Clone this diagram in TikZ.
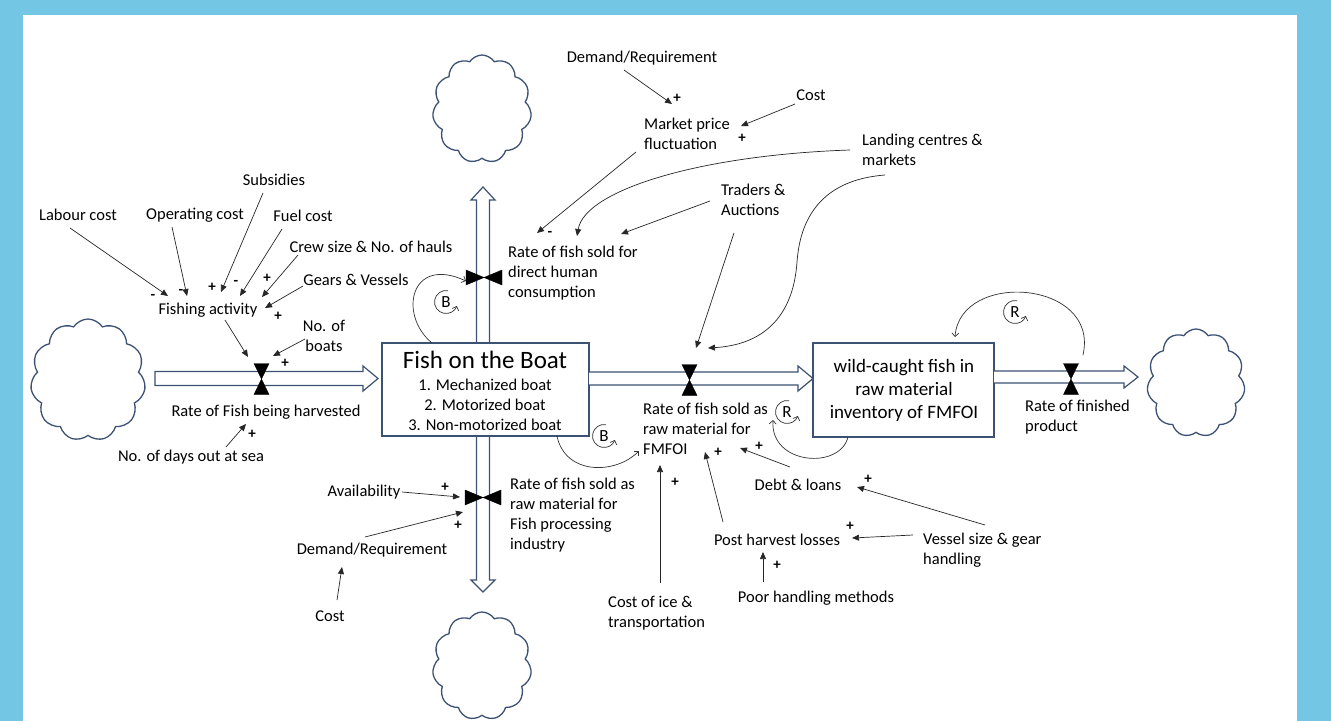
\documentclass[tikz,border=0pt]{standalone}
\usepackage{fontspec}
\setmainfont{Carlito}
\usetikzlibrary{shapes.symbols,arrows.meta,calc}
\definecolor{framecol}{RGB}{116,198,229}
\definecolor{flow}{RGB}{60,82,115}
\tikzset{
 lbl/.style={inner sep=0pt, font=\fontsize{16.5}{20}\selectfont, align=center},
 lbll/.style={inner sep=0pt, font=\fontsize{16.5}{20}\selectfont, align=left, anchor=west},
 pol/.style={inner sep=0pt, font=\fontsize{15}{15}\selectfont\bfseries},
 arr/.style={-{Triangle[length=7pt,width=6pt]}, line width=0.7pt, black!85},
 loopa/.style={-{Straight Barb[length=3.5pt,width=7pt]}, line width=0.7pt, black!80},
 pipe/.style={draw=flow, fill=white, line width=1.2pt, line join=miter},
 valvest/.style={fill=black, draw=black, line width=0.4pt},
 cloudy/.style={cloud, cloud puffs=11, cloud puff arc=115, aspect=1, draw=flow, line width=1.3pt, fill=white, inner sep=0pt},
 stockbox/.style={draw=flow, fill=white, line width=1.2pt, inner sep=0pt},
 looplbl/.style={inner sep=0pt, font=\fontsize{17}{17}\selectfont},
}
\newcommand{\loopsym}[3]{%
  \node[looplbl] (#3) at (#1) {#2};
  \draw[loopa] ($(#1)+(-80:11.5)$) arc[start angle=-80, end angle=-340, radius=11.5];
}
\begin{document}
\begin{tikzpicture}[x=1pt,y=-1pt]
\useasboundingbox (0,0) rectangle (1331,721);
\fill[framecol] (0,0) rectangle (1331,721);
\fill[white] (23,15) rectangle (1297,721);

% clouds
\node[cloudy, minimum width=99, minimum height=108] (ctop) at (482,109) {};
\node[cloudy, minimum width=99, minimum height=108] (cbot) at (482,666) {};
\node[cloudy, minimum width=115, minimum height=122] (cleft) at (88,380) {};
\node[cloudy, minimum width=98, minimum height=108] (cright) at (1196,383) {};

% vertical pipe (up and down)
\draw[pipe] (476.5,420) -- (476.5,200) -- (471,200) -- (483,187) -- (495,200) -- (489.5,200) -- (489.5,420);
\draw[pipe] (476.5,420) -- (476.5,580) -- (471,580) -- (483,592) -- (495,580) -- (489.5,580) -- (489.5,420);

% stocks
\node[stockbox, minimum width=207, minimum height=93] (boat) at (485.5,389.5) {};
\node[stockbox, minimum width=181, minimum height=94] (wild) at (903.5,390) {};

% horizontal pipes
\draw[pipe] (155,371.5) -- (363,371.5) -- (363,366) -- (378,378.5) -- (363,391) -- (363,385.5) -- (155,385.5) -- cycle;
\draw[pipe] (589,372) -- (798,372) -- (798,366) -- (813,378.5) -- (798,391) -- (798,385) -- (589,385);
\draw[pipe] (994,371) -- (1124,371) -- (1124,366) -- (1138,377) -- (1124,388) -- (1124,383) -- (994,383);

% valves
\coordinate (v1) at (261.5,379);
\coordinate (v2) at (689.5,380);
\coordinate (v3) at (1071,379);
\coordinate (v4) at (484,277.5);
\coordinate (v5) at (483,497.5);
\foreach \v in {v1,v2,v3}{
  \fill[valvest] ($(\v)+(-7.5,-15.5)$) -- ($(\v)+(7.5,-15.5)$) -- (\v) -- cycle;
  \fill[valvest] ($(\v)+(-7.5,15.5)$) -- ($(\v)+(7.5,15.5)$) -- (\v) -- cycle;
}
\foreach \v in {v4,v5}{
  \fill[valvest] ($(\v)+(-18,-7.5)$) -- ($(\v)+(-18,7.5)$) -- (\v) -- cycle;
  \fill[valvest] ($(\v)+(18,-7.5)$) -- ($(\v)+(18,7.5)$) -- (\v) -- cycle;
}

% stock texts
\node[inner sep=0pt, font=\fontsize{25}{28}\selectfont] (boatt) at (485,360) {Fish on the Boat};
\node[lbl] (boatl) at (485,405) {1. Mechanized boat\\2. Motorized boat\\3. Non-motorized boat};
\node[inner sep=0pt, font=\fontsize{19}{23}\selectfont, align=center] (wildt) at (904,390) {wild-caught fish in\\raw material\\inventory of FMFOI};

% labels
\node[lbl] (subs) at (274,180) {Subsidies};
\node[lbl] (labour) at (78,215) {Labour cost};
\node[lbl] (opc) at (195,215) {Operating cost};
\node[lbl] (fuel) at (303,216) {Fuel cost};
\node[lbl] (crew) at (371,247) {Crew size \& No. of hauls};
\node[lbl] (gears) at (356,280) {Gears \& Vessels};
\node[lbl] (fishact) at (208,310) {Fishing activity};
\node[lbl] (boats) at (324,336) {No. of\\boats};
\node[lbl] (harv) at (266,412) {Rate of Fish being harvested};
\node[lbl] (days) at (191,457) {No. of days out at sea};

\node[lbl] (dem1) at (642,58) {Demand/Requirement};
\node[lbl] (cost1) at (811,95) {Cost};
\node[lbll] (mkt) at (644,134) {Market price\\fluctuation};
\node[lbll] (land) at (862,150) {Landing centres \&\\markets};
\node[lbll] (trad) at (721,200) {Traders \&\\Auctions};
\node[lbll] (direct) at (508,273) {Rate of fish sold for\\direct human\\consumption};

\node[lbll] (fmfoi) at (643,429) {Rate of fish sold as\\raw material for\\FMFOI};
\node[lbll] (fin) at (1025,417) {Rate of finished\\product};

\node[lbl] (avail) at (364,492) {Availability};
\node[lbll] (fpi) at (510,515) {Rate of fish sold as\\raw material for\\Fish processing\\industry};
\node[lbl] (dem2) at (372,550) {Demand/Requirement};
\node[lbl] (cost2) at (330,616) {Cost};
\node[lbll] (ice) at (608,613) {Cost of ice \&\\transportation};
\node[lbl] (debt) at (798,485) {Debt \& loans};
\node[lbl] (post) at (777,540) {Post harvest losses};
\node[lbll] (vessel) at (923,550) {Vessel size \& gear\\handling};
\node[lbl] (poor) at (816,598) {Poor handling methods};

% connector end points
\coordinate (L1s) at (70,228);   \coordinate (L1e) at (168,296);
\coordinate (L2s) at (172,227);  \coordinate (L2e) at (187,296);
\coordinate (L3s) at (263,193);  \coordinate (L3e) at (221,292);
\coordinate (L4s) at (282,229);  \coordinate (L4e) at (240,296);
\coordinate (L5s) at (298,255);  \coordinate (L5e) at (262,297);
\coordinate (L6s) at (303,286);  \coordinate (L6e) at (265,308);
\coordinate (L7s) at (225,320);  \coordinate (L7e) at (248,357);
\coordinate (L8s) at (305,339);  \coordinate (L8e) at (273,356);
\coordinate (L9s) at (226,447);  \coordinate (L9e) at (246,424);

\coordinate (T1s) at (624,70);   \coordinate (T1e) at (672,104);
\coordinate (T2s) at (795,104);  \coordinate (T2e) at (741,126);
\coordinate (T3s) at (636,152);  \coordinate (T3e) at (537,233);
\coordinate (T4s) at (710,201);  \coordinate (T4e) at (621,234);
\coordinate (T5s) at (734,233);  \coordinate (T5e) at (696,348);
\coordinate (T6s) at (850,150);  \coordinate (T6e) at (577,236);
\coordinate (T7s) at (885,175);  \coordinate (T7e) at (708,348);

\coordinate (B1s) at (402,492);  \coordinate (B1e) at (460,497);
\coordinate (B2s) at (365,537);  \coordinate (B2e) at (463,512);
\coordinate (B3s) at (337,600);  \coordinate (B3e) at (342,567);
\coordinate (B4s) at (660,583);  \coordinate (B4e) at (660,465);
\coordinate (B5s) at (723,522);  \coordinate (B5e) at (705,452);
\coordinate (B6s) at (790,467);  \coordinate (B6e) at (740,448);
\coordinate (B7s) at (985,525);  \coordinate (B7e) at (857,487);
\coordinate (B8s) at (913,535);  \coordinate (B8e) at (852,538);
\coordinate (B9s) at (763,582);  \coordinate (B9e) at (763,552);

\foreach \a in {L1,L2,L3,L4,L5,L6,L7,L8,L9,T1,T2,T3,T4,T5,B1,B2,B3,B4,B5,B6,B7,B8,B9}{
  \draw[arr] (\a s) -- (\a e);
}
\draw[arr] (T6s) .. controls (700,155) and (585,190) .. (T6e);
\draw[arr] (T7s) .. controls (820,180) and (800,220) .. (797,262) .. controls (793,320) and (760,345) .. (T7e);

% feedback loops
\coordinate (lp1s) at (432,343); \coordinate (lp1e) at (466,281);
\coordinate (lp2s) at (557,436); \coordinate (lp2e) at (639,451);
\coordinate (lp3s) at (848,437); \coordinate (lp3e) at (773,420);
\coordinate (lp4s) at (1083,355); \coordinate (lp4e) at (955,337);
\draw[loopa] (lp1s) .. controls (398,315) and (410,255) .. (lp1e);
\draw[loopa] (lp2s) .. controls (565,475) and (615,475) .. (lp2e);
\draw[loopa] (lp3s) .. controls (840,470) and (770,465) .. (lp3e);
\draw[loopa] (lp4s) .. controls (1100,280) and (960,270) .. (lp4e);

\coordinate (cB1) at (446,302);
\coordinate (cB2) at (604,436);
\coordinate (cR1) at (787,412);
\coordinate (cR2) at (1015,312);
\loopsym{cB1}{B}{lb1}
\loopsym{cB2}{B}{lb2}
\loopsym{cR1}{R}{lr1}
\loopsym{cR2}{R}{lr2}

% polarities
\node[pol] (p1) at (153,297) {-};
\node[pol] (p2) at (181,292) {-};
\node[pol] (p3) at (212,287) {+};
\node[pol] (p4) at (236,283) {-};
\node[pol] (p5) at (267,278) {+};
\node[pol] (p6) at (278,316) {+};
\node[pol] (p7) at (285,363) {+};
\node[pol] (p8) at (252,434) {+};
\node[pol] (p9) at (677,98) {+};
\node[pol] (p10) at (742,138) {+};
\node[pol] (p11) at (550,234) {-};
\node[pol] (p12) at (445,487) {+};
\node[pol] (p13) at (458,525) {+};
\node[pol] (p14) at (675,482) {+};
\node[pol] (p15) at (718,452) {+};
\node[pol] (p16) at (759,446) {+};
\node[pol] (p17) at (868,479) {+};
\node[pol] (p18) at (850,526) {+};
\node[pol] (p19) at (777,565) {+};
\end{tikzpicture}
\end{document}
